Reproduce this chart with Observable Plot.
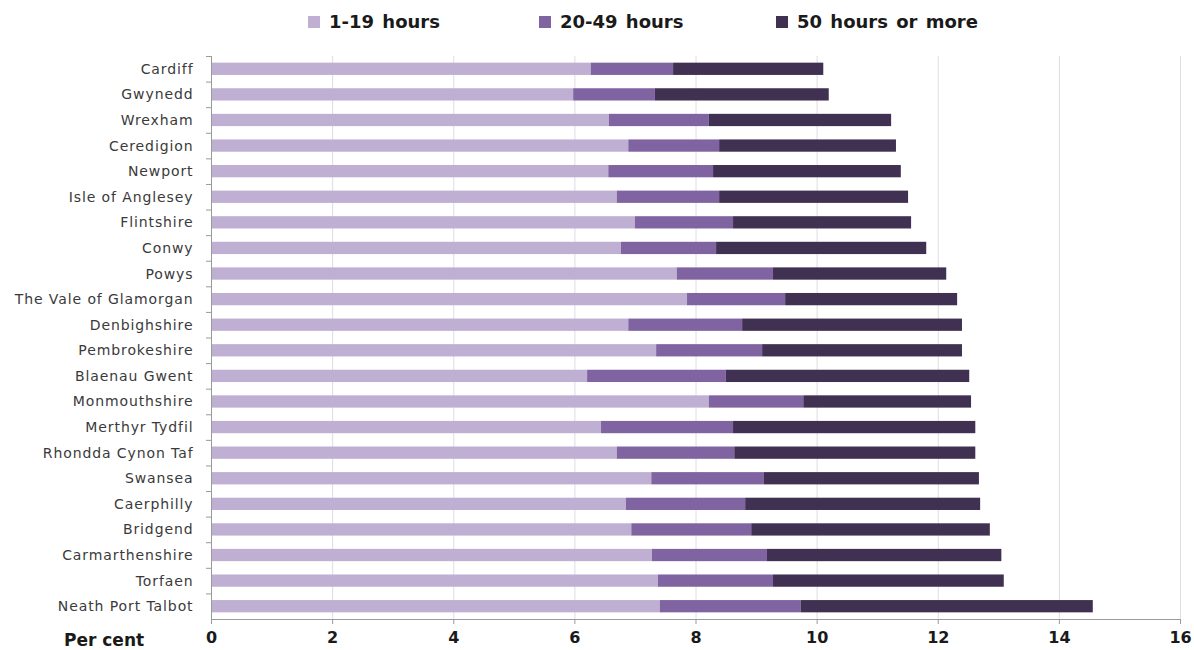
<!DOCTYPE html>
<html><head><meta charset="utf-8">
<script src="https://cdn.jsdelivr.net/npm/d3@7"></script>
<script src="https://cdn.jsdelivr.net/npm/@observablehq/plot@0.6"></script>
<style>
body{margin:0;background:#fff;font-family:"DejaVu Sans",sans-serif;}
#wrap{position:relative;width:1194px;height:650px;}
#legend{position:relative;height:45px;}
.li{position:absolute;top:11px;display:flex;align-items:center;font-weight:bold;font-size:18px;color:#1a1a1a;word-spacing:2px;}
.sw{width:12px;height:12px;margin-right:9px;}
#pc{position:absolute;left:64px;top:630px;font-weight:bold;font-size:17px;color:#1a1a1a;}
#chart svg{display:block;}
</style>
</head><body>
<div id="wrap">
<div id="legend"></div>
<div id="chart"></div>
<div id="pc">Per cent</div>
</div>
<script>
const areas = ["Cardiff","Gwynedd","Wrexham","Ceredigion","Newport","Isle of Anglesey","Flintshire","Conwy","Powys","The Vale of Glamorgan","Denbighshire","Pembrokeshire","Blaenau Gwent","Monmouthshire","Merthyr Tydfil","Rhondda Cynon Taf","Swansea","Caerphilly","Bridgend","Carmarthenshire","Torfaen","Neath Port Talbot"];
const seriesNames = ["1-19 hours","20-49 hours","50 hours or more"];
const h1to19 = [6.27,5.98,6.57,6.89,6.56,6.70,7.00,6.77,7.69,7.86,6.89,7.35,6.21,8.22,6.44,6.70,7.27,6.85,6.94,7.28,7.38,7.41];
const h20to49 = [1.36,1.35,1.65,1.50,1.73,1.69,1.62,1.57,1.59,1.62,1.88,1.75,2.29,1.56,2.18,1.94,1.86,1.97,1.98,1.90,1.90,2.33];
const h50plus = [2.48,2.87,3.01,2.92,3.10,3.12,2.94,3.47,2.86,2.84,3.63,3.30,4.02,2.77,4.00,3.98,3.55,3.88,3.94,3.87,3.81,4.82];
const xTicks = [0,2,4,6,8,10,12,14,16];
const colors = ["#bfb0d3","#8064a2","#403152"];

const seriesVals = [h1to19,h20to49,h50plus];
const data = [];
areas.forEach((a,i)=>{
  seriesNames.forEach((s,j)=>data.push({area:a, series:s, value:seriesVals[j][i]}));
});

// legend
const lg = document.getElementById("legend");
const lx = [308,539,776];
seriesNames.forEach((s,j)=>{
  const d = document.createElement("div");
  d.className="li"; d.style.left = lx[j]+"px";
  d.innerHTML = `<span class="sw" style="background:${colors[j]}"></span>${s}`;
  lg.appendChild(d);
});

const H = 605, MT = 11, MB = 31;
const halfStep = (H - MT - MB) / areas.length / 2;

const chart = Plot.plot({
  width:1194, height:H,
  marginLeft:211, marginRight:14, marginTop:MT, marginBottom:MB,
  style:{fontFamily:"DejaVu Sans, sans-serif", background:"#fff"},
  x:{domain:[0,16], ticks:xTicks},
  y:{domain:areas, paddingInner:0.52, paddingOuter:0.26, round:false},
  color:{domain:seriesNames, range:colors},
  marks:[
    Plot.gridX({ticks:xTicks, stroke:"#dcdce6", strokeOpacity:1}),
    Plot.barX(data, {x:"value", y:"area", fill:"series", order:seriesNames}),
    Plot.ruleX([0], {stroke:"#9a9a9a"}),
    Plot.frame({anchor:"bottom", stroke:"#9a9a9a"}),
    Plot.axisX({ticks:xTicks, tickSize:5, tickPadding:7, fontSize:16, fontWeight:"bold", fill:"#1a1a1a", stroke:"#9a9a9a", label:null}),
    Plot.axisY({tickSize:5, tickFormat:()=>"", dy:-halfStep, stroke:"#9a9a9a", label:null}),
    Plot.axisY({tickSize:0, tickPadding:18, fontSize:14, fill:"#3a3a3a", label:null})
  ]
});
chart.querySelectorAll('[aria-label="y-axis tick label"] text').forEach(t=>t.style.letterSpacing="0.9px");
document.getElementById("chart").appendChild(chart);
</script>
</body></html>
